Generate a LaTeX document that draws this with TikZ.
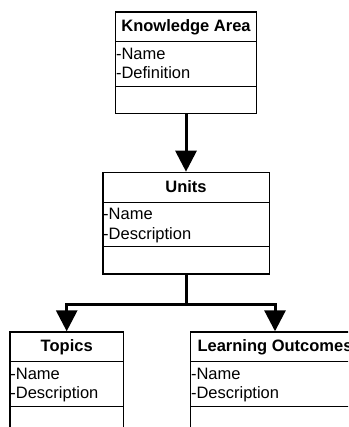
\documentclass[tikz,border=0pt]{standalone}
\usepackage{fontspec}
\setmainfont{Liberation Sans}
\usetikzlibrary{arrows.meta}
\tikzset{
  classbox/.style={draw, line width=1.3pt, inner sep=0pt, minimum width=#1,
    minimum height=101.5pt, anchor=north},
  classtitle/.style={font=\fontsize{16.5}{20}\selectfont\bfseries, inner sep=0pt, anchor=base},
  classattr/.style={font=\fontsize{16.5}{20}\selectfont, inner sep=0pt, anchor=base west},
  divider/.style={line width=1.3pt},
  link/.style={line width=3pt},
  arr/.style={link, -{Triangle[width=21pt,length=21pt]}}
}
% UML-style class box: name, x, top, width, title, second attribute
\newcommand\ClassBox[6]{%
  \node[classbox=#4] (#1) at (#2,#3) {};
  \draw[divider] ([yshift=-30.5pt]#1.north west) -- ([yshift=-30.5pt]#1.north east);
  \draw[divider] ([yshift=-75pt]#1.north west) -- ([yshift=-75pt]#1.north east);
  \node[classtitle] (#1-title) at ([yshift=-20.5pt]#1.north) {#5};
  \node[classattr] (#1-name) at ([xshift=0.8pt,yshift=-48pt]#1.north west) {-Name};
  \node[classattr] (#1-extra) at ([xshift=0.8pt,yshift=-67.5pt]#1.north west) {#6};
}
\begin{document}
\begin{tikzpicture}[x=1pt,y=-1pt]
  \useasboundingbox (0,0) rectangle (348,427);
  \clip (0,0) rectangle (348,427);

  \ClassBox{ka}{186}{11.3}{140.6pt}{Knowledge Area}{-Definition}
  \ClassBox{units}{186}{171.7}{166.3pt}{Units}{-Description}
  \ClassBox{topics}{66.7}{331.3}{113.3pt}{Topics}{-Description}
  \ClassBox{lo}{275}{331.3}{168.6pt}{Learning Outcomes}{-Description}

  \draw[arr] (ka.south) -- (units.north);
  \coordinate (split) at ([yshift=-29.7pt]units.south);
  \draw[link] (units.south) -- (split);
  \draw[arr] (split) -| (topics.north);
  \draw[arr] (split) -| (lo.north);
\end{tikzpicture}
\end{document}
